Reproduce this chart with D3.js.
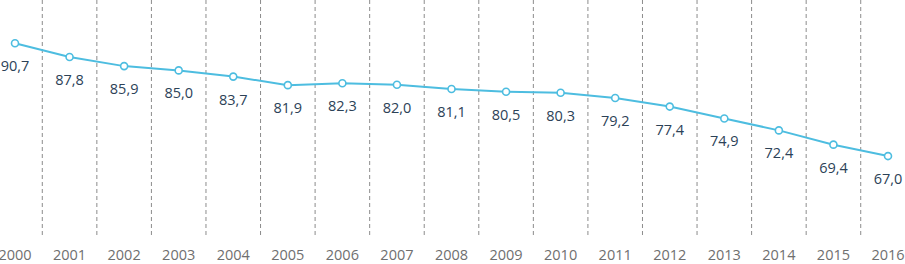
<!DOCTYPE html>
<html><head><meta charset="utf-8">
<script src="https://cdn.jsdelivr.net/npm/d3@7"></script>
<style>body{margin:0;background:#fff}svg{display:block}</style>
</head><body>
<svg id="c" width="905" height="264"></svg>
<script>
const years = ["2000","2001","2002","2003","2004","2005","2006","2007","2008","2009","2010","2011","2012","2013","2014","2015","2016"];
const values = [90.7,87.8,85.9,85.0,83.7,81.9,82.3,82.0,81.1,80.5,80.3,79.2,77.4,74.9,72.4,69.4,67.0];
const yDomain = [50, 100];

const svg = d3.select("#c");
const x = d3.scalePoint().domain(years).range([15, 888]);
const y = d3.scaleLinear().domain(yDomain).range([237, -1]);
const step = x.step();

// dashed separators
svg.append("g").selectAll("line").data(years.slice(1)).join("line")
  .attr("x1", d => x(d) - step/2).attr("x2", d => x(d) - step/2)
  .attr("y1", 0).attr("y2", 237)
  .attr("stroke", "#8c8c8c").attr("stroke-width", 1).attr("stroke-dasharray", "4,3");

// line
svg.append("path").datum(values)
  .attr("fill", "none").attr("stroke", "#4dbde0").attr("stroke-width", 2)
  .attr("d", d3.line().x((d,i) => x(years[i])).y(d => y(d)));

// markers
svg.append("g").selectAll("circle").data(values).join("circle")
  .attr("cx", (d,i) => x(years[i])).attr("cy", d => y(d)).attr("r", 3.5)
  .attr("fill", "#fff").attr("stroke", "#4dbde0").attr("stroke-width", 1.6);

// value labels
svg.append("g").selectAll("text").data(values).join("text")
  .attr("x", (d,i) => x(years[i])).attr("y", d => y(d) + 28)
  .attr("text-anchor", "middle")
  .attr("font-family", "Open Sans, sans-serif").attr("font-size", 14.5)
  .attr("fill", "#2c4257")
  .text(d => d3.format(".1f")(d).replace(".", ","));

// year axis labels
svg.append("g").selectAll("text").data(years).join("text")
  .attr("x", d => x(d)).attr("y", 260)
  .attr("text-anchor", "middle")
  .attr("font-family", "Open Sans, sans-serif").attr("font-size", 14.5)
  .attr("fill", "#6f6f6f")
  .text(d => d);
</script>
</body></html>
